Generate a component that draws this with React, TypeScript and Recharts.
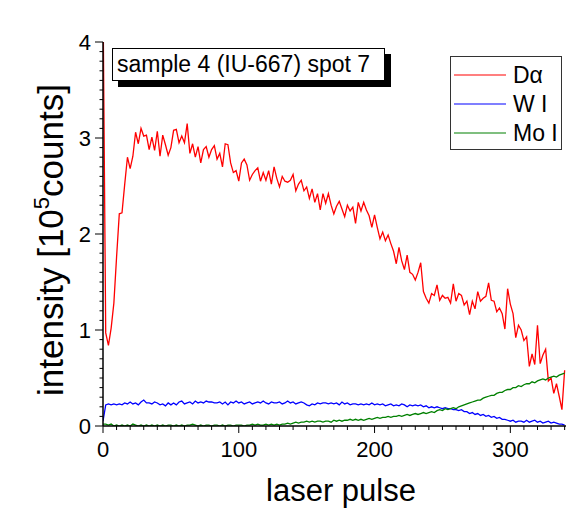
import React from 'react';
import { LineChart, Line, XAxis, YAxis, Legend } from 'recharts';

const pulses = [
  0, 2, 4, 6, 8, 10, 12, 14, 16, 18, 20, 22, 24, 26, 28, 30, 32, 34, 36, 38,
  40, 42, 44, 46, 48, 50, 52, 54, 56, 58, 60, 62, 64, 66, 68, 70, 72, 74, 76, 78,
  80, 82, 84, 86, 88, 90, 92, 94, 96, 98, 100, 102, 104, 106, 108, 110, 112, 114, 116, 118,
  120, 122, 124, 126, 128, 130, 132, 134, 136, 138, 140, 142, 144, 146, 148, 150, 152, 154, 156, 158,
  160, 162, 164, 166, 168, 170, 172, 174, 176, 178, 180, 182, 184, 186, 188, 190, 192, 194, 196, 198,
  200, 202, 204, 206, 208, 210, 212, 214, 216, 218, 220, 222, 224, 226, 228, 230, 232, 234, 236, 238,
  240, 242, 244, 246, 248, 250, 252, 254, 256, 258, 260, 262, 264, 266, 268, 270, 272, 274, 276, 278,
  280, 282, 284, 286, 288, 290, 292, 294, 296, 298, 300, 302, 304, 306, 308, 310, 312, 314, 316, 318,
  320, 322, 324, 326, 328, 330, 332, 334, 336, 338, 340,
];

const dAlpha = [
  4.5, 0.97, 0.84, 1.02, 1.28, 1.76, 2.21, 2.22, 2.52, 2.80,
  2.68, 2.81, 3.06, 2.94, 3.10, 3.02, 3.03, 2.88, 3.01, 2.87,
  3.07, 2.81, 3.03, 2.93, 2.82, 2.90, 3.08, 3.09, 2.95, 3.02,
  2.95, 3.15, 2.84, 2.94, 2.80, 2.91, 2.74, 2.88, 2.91, 2.80,
  2.88, 2.92, 2.78, 2.84, 2.70, 2.94, 2.93, 2.74, 2.64, 2.66,
  2.55, 2.74, 2.78, 2.72, 2.56, 2.62, 2.66, 2.69, 2.55, 2.64,
  2.56, 2.66, 2.52, 2.70, 2.58, 2.49, 2.60, 2.55, 2.54, 2.56,
  2.62, 2.45, 2.52, 2.56, 2.45, 2.49, 2.37, 2.47, 2.33, 2.42,
  2.25, 2.42, 2.32, 2.42, 2.30, 2.21, 2.29, 2.34, 2.26, 2.18,
  2.30, 2.24, 2.28, 2.11, 2.33, 2.24, 2.33, 2.25, 2.19, 2.07,
  2.20, 2.07, 1.95, 2.02, 1.93, 1.99, 1.90, 1.82, 1.69, 1.86,
  1.72, 1.63, 1.78, 1.60, 1.58, 1.52, 1.60, 1.70, 1.40, 1.33,
  1.28, 1.38, 1.36, 1.47, 1.31, 1.36, 1.33, 1.34, 1.28, 1.48,
  1.30, 1.38, 1.36, 1.26, 1.30, 1.16, 1.30, 1.22, 1.40, 1.30,
  1.33, 1.35, 1.49, 1.31, 1.30, 1.19, 1.23, 1.17, 1.01, 1.43,
  1.27, 1.17, 0.92, 1.05, 1.00, 0.89, 0.93, 0.62, 0.75, 0.64,
  1.05, 0.65, 0.74, 0.80, 0.47, 0.50, 0.34, 0.44, 0.31, 0.17,
  0.58,
];

const wI = [
  0.05, 0.22, 0.23, 0.22, 0.23, 0.22, 0.23, 0.22, 0.24, 0.23,
  0.25, 0.23, 0.24, 0.22, 0.25, 0.27, 0.24, 0.24, 0.23, 0.25,
  0.24, 0.22, 0.23, 0.21, 0.24, 0.22, 0.24, 0.22, 0.25, 0.26,
  0.23, 0.24, 0.25, 0.23, 0.26, 0.24, 0.25, 0.24, 0.26, 0.25,
  0.25, 0.24, 0.24, 0.25, 0.23, 0.25, 0.22, 0.25, 0.24, 0.26,
  0.24, 0.25, 0.23, 0.24, 0.25, 0.23, 0.24, 0.25, 0.24, 0.26,
  0.24, 0.23, 0.25, 0.24, 0.24, 0.25, 0.23, 0.24, 0.26, 0.24,
  0.25, 0.23, 0.24, 0.25, 0.24, 0.22, 0.21, 0.23, 0.22, 0.24,
  0.23, 0.24, 0.24, 0.23, 0.24, 0.23, 0.24, 0.22, 0.25, 0.23,
  0.24, 0.22, 0.23, 0.23, 0.22, 0.23, 0.22, 0.23, 0.22, 0.24,
  0.22, 0.23, 0.22, 0.23, 0.21, 0.22, 0.23, 0.21, 0.22, 0.21,
  0.23, 0.22, 0.20, 0.22, 0.21, 0.22, 0.21, 0.22, 0.20, 0.21,
  0.19, 0.20, 0.19, 0.20, 0.19, 0.18, 0.19, 0.18, 0.18, 0.17,
  0.17, 0.16, 0.17, 0.15, 0.15, 0.13, 0.14, 0.12, 0.13, 0.11,
  0.12, 0.10, 0.11, 0.09, 0.10, 0.08, 0.09, 0.07, 0.07, 0.06,
  0.05, 0.06, 0.04, 0.05, 0.05, 0.04, 0.06, 0.04, 0.05, 0.06,
  0.04, 0.05, 0.03, 0.04, 0.05, 0.03, 0.04, 0.03, 0.02, 0.02,
  0.01,
];

const moI = [
  0.02, 0.02, 0.01, 0.02, 0.00, 0.01, 0.00, 0.01, 0.00, 0.01,
  0.00, 0.02, 0.01, 0.00, 0.01, 0.00, 0.01, 0.00, 0.01, 0.00,
  0.01, 0.00, 0.01, 0.00, 0.01, 0.01, 0.00, 0.01, 0.00, 0.01,
  0.00, 0.01, 0.01, 0.02, 0.01, 0.00, 0.01, 0.00, 0.01, 0.01,
  0.00, 0.01, 0.01, 0.00, 0.01, 0.00, 0.01, 0.01, 0.00, 0.01,
  0.01, 0.01, 0.00, 0.01, 0.01, 0.02, 0.01, 0.02, 0.01, 0.01,
  0.02, 0.01, 0.02, 0.01, 0.02, 0.01, 0.02, 0.02, 0.03, 0.02,
  0.03, 0.04, 0.03, 0.04, 0.04, 0.05, 0.04, 0.05, 0.04, 0.05,
  0.05, 0.04, 0.05, 0.05, 0.04, 0.06, 0.05, 0.06, 0.05, 0.06,
  0.06, 0.07, 0.06, 0.07, 0.06, 0.07, 0.06, 0.07, 0.08, 0.07,
  0.08, 0.09, 0.08, 0.09, 0.09, 0.10, 0.09, 0.10, 0.10, 0.11,
  0.10, 0.11, 0.12, 0.11, 0.12, 0.13, 0.12, 0.13, 0.14, 0.13,
  0.14, 0.15, 0.14, 0.16, 0.17, 0.16, 0.18, 0.17, 0.18, 0.19,
  0.18, 0.20, 0.21, 0.22, 0.23, 0.24, 0.25, 0.26, 0.27, 0.27,
  0.29, 0.30, 0.31, 0.32, 0.32, 0.34, 0.35, 0.35, 0.37, 0.38,
  0.38, 0.40, 0.40, 0.42, 0.41, 0.43, 0.44, 0.44, 0.46, 0.45,
  0.47, 0.48, 0.49, 0.48, 0.50, 0.51, 0.52, 0.51, 0.53, 0.54,
  0.55,
];

const xTicks = [
  0, 10, 20, 30, 40, 50, 60, 70, 80, 90, 100, 110, 120, 130, 140, 150, 160, 170,
  180, 190, 200, 210, 220, 230, 240, 250, 260, 270, 280, 290, 300, 310, 320, 330, 340,
];
const xMajor = [0, 100, 200, 300];

const yTicks = [
  0, 0.1, 0.2, 0.3, 0.4, 0.5, 0.6, 0.7, 0.8, 0.9,
  1, 1.1, 1.2, 1.3, 1.4, 1.5, 1.6, 1.7, 1.8, 1.9,
  2, 2.1, 2.2, 2.3, 2.4, 2.5, 2.6, 2.7, 2.8, 2.9,
  3, 3.1, 3.2, 3.3, 3.4, 3.5, 3.6, 3.7, 3.8, 3.9, 4,
];
const yMajor = [0, 1, 2, 3, 4];

const seriesNames = ['D\u03b1', 'W I', 'Mo I'];
const seriesColors = ['#ff0000', '#0000ff', '#008000'];
const annotation = 'sample 4 (IU-667) spot 7';

const rows = pulses.map((p, i) => ({ pulse: p, d: dAlpha[i], w: wI[i], mo: moI[i] }));

const FONT = '"Liberation Sans", Arial, Helvetica, sans-serif';

function BottomTick(props: any) {
  const { x, y, payload } = props;
  const v = payload.value;
  const major = xMajor.includes(v);
  return (
    <g>
      <line x1={x} y1={y} x2={x} y2={y + (major ? 7 : 4)} stroke="#000" strokeWidth={1} />
      {major && (
        <text x={x} y={y + 31} textAnchor="middle" fontSize={22} fontFamily={FONT} fill="#000">
          {v}
        </text>
      )}
    </g>
  );
}

function TopTick(props: any) {
  const { x, y, payload } = props;
  const major = xMajor.includes(payload.value);
  return (
    <line
      x1={x}
      y1={major ? y + 6 : y}
      x2={x}
      y2={major ? y : y - 3}
      stroke="#000"
      strokeWidth={1}
    />
  );
}

function LeftTick(props: any) {
  const { x, y, payload } = props;
  const v = payload.value;
  const major = yMajor.some((m) => Math.abs(m - v) < 1e-6);
  return (
    <g>
      <line x1={x - (major ? 8 : 3.5)} y1={y} x2={x} y2={y} stroke="#000" strokeWidth={1} />
      {major && (
        <text x={x - 12} y={y + 8} textAnchor="end" fontSize={22} fontFamily={FONT} fill="#000">
          {Math.round(v)}
        </text>
      )}
    </g>
  );
}

function XLabel() {
  return (
    <text x={341} y={501} textAnchor="middle" fontSize={31} fontFamily={FONT} fill="#000">
      laser pulse
    </text>
  );
}

function YLabel() {
  return (
    <text
      x={63}
      y={240}
      transform="rotate(-90 63 240)"
      textAnchor="middle"
      fontSize={35}
      fontFamily={FONT}
      fill="#000"
    >
      <tspan>intensity [10</tspan>
      <tspan dy={-14} fontSize={22}>5</tspan>
      <tspan dy={14}>counts]</tspan>
    </text>
  );
}

function LegendBox(props: any) {
  const payload = [...(props.payload || [])].sort(
    (a: any, b: any) => seriesNames.indexOf(a.value) - seriesNames.indexOf(b.value)
  );
  return (
    <svg width={112} height={94} style={{ display: 'block' }}>
      <rect x={0.5} y={0.5} width={111} height={93} fill="#fff" stroke="#333" strokeWidth={1} />
      {payload.map((entry: any, i: number) => {
        const cy = 19 + i * 29;
        return (
          <g key={i}>
            <line x1={4} y1={cy} x2={56} y2={cy} stroke={entry.color} strokeWidth={1.2} />
            <text x={63} y={cy + 8} fontSize={23} fontFamily={FONT} fill="#000">
              {entry.value}
            </text>
          </g>
        );
      })}
    </svg>
  );
}

export default function App() {
  return (
    <div style={{ position: 'absolute', left: 0, top: 0, width: 566, height: 512, background: '#fff' }}>
      <LineChart
        width={566}
        height={512}
        data={rows}
        margin={{ top: 42, right: 0, bottom: 0, left: 0 }}
      >
        <XAxis
          dataKey="pulse"
          type="number"
          domain={[0, 341]}
          allowDataOverflow
          ticks={xTicks}
          interval={0}
          tickSize={0}
          tickMargin={0}
          tickLine={false}
          tick={<BottomTick />}
          axisLine={{ stroke: '#000', strokeWidth: 1.5 }}
          height={86}
          label={<XLabel />}
        />
        <XAxis
          xAxisId="top"
          orientation="top"
          dataKey="pulse"
          type="number"
          domain={[0, 341]}
          allowDataOverflow
          ticks={xTicks}
          interval={0}
          tickSize={0}
          tickMargin={0}
          tickLine={false}
          tick={<TopTick />}
          axisLine={{ stroke: '#000', strokeWidth: 1.5 }}
          height={0}
        />
        <YAxis
          type="number"
          domain={[0, 4]}
          allowDataOverflow
          ticks={yTicks}
          interval={0}
          tickSize={0}
          tickMargin={0}
          tickLine={false}
          tick={<LeftTick />}
          axisLine={{ stroke: '#000', strokeWidth: 1.5 }}
          width={103}
          label={<YLabel />}
        />
        <Legend
          layout="vertical"
          align="center"
          verticalAlign="middle"
          wrapperStyle={{ left: 450, top: 56, width: 112, height: 94 }}
          content={<LegendBox />}
        />
        <Line
          dataKey="d"
          name={seriesNames[0]}
          stroke={seriesColors[0]}
          strokeWidth={1.3}
          dot={false}
          isAnimationActive={false}
        />
        <Line
          dataKey="w"
          name={seriesNames[1]}
          stroke={seriesColors[1]}
          strokeWidth={1.3}
          dot={false}
          isAnimationActive={false}
        />
        <Line
          dataKey="mo"
          name={seriesNames[2]}
          stroke={seriesColors[2]}
          strokeWidth={1.3}
          dot={false}
          isAnimationActive={false}
        />
        <g>
          <rect x={118} y={54} width={273} height={33} fill="#000" />
          <rect x={112.5} y={48.5} width={272} height={32} fill="#fff" stroke="#000" strokeWidth={1} />
          <text x={117} y={72} fontSize={23} fontFamily={FONT} fill="#000">
            {annotation}
          </text>
        </g>
      </LineChart>
    </div>
  );
}
